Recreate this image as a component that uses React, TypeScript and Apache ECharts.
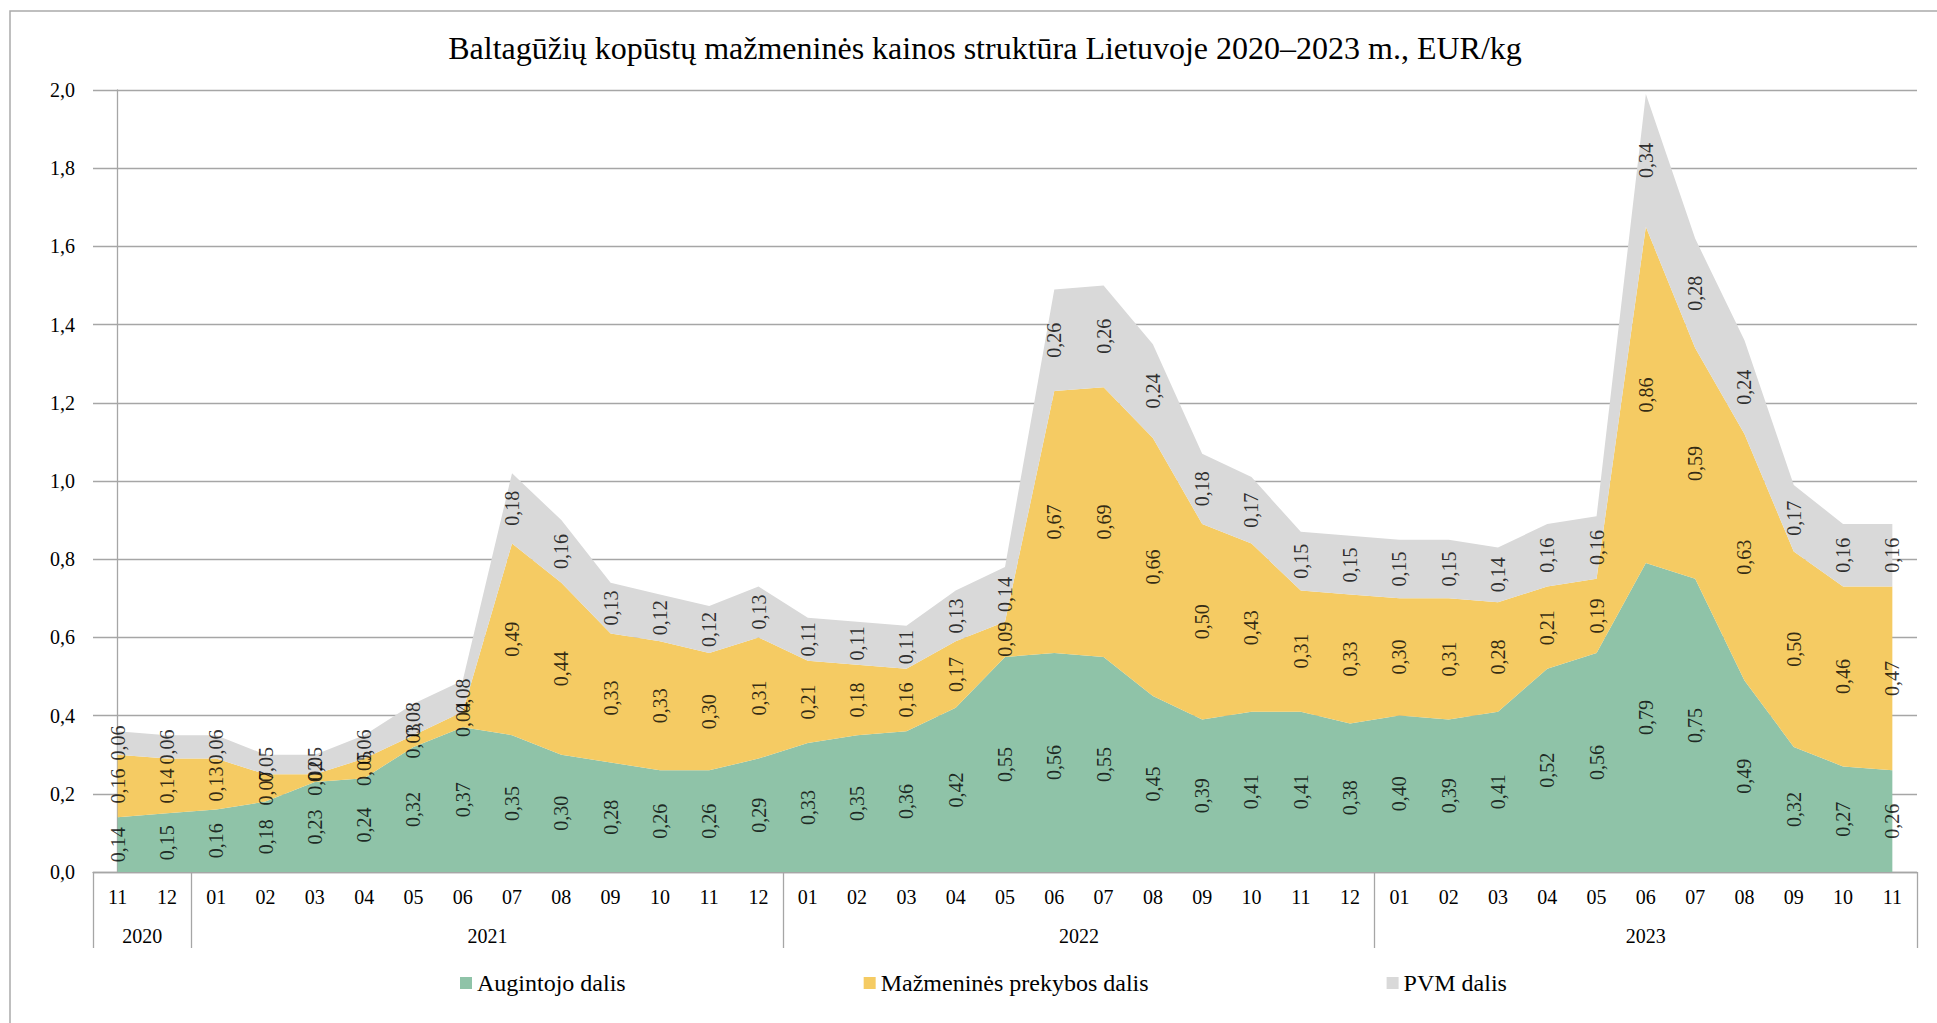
import React, { useEffect, useRef } from "react";
import * as echarts from "echarts";

const TITLE = "Baltagūžių kopūstų mažmeninės kainos struktūra Lietuvoje 2020–2023 m., EUR/kg";

const months = [
  "11", "12",
  "01", "02", "03", "04", "05", "06", "07", "08", "09", "10", "11", "12",
  "01", "02", "03", "04", "05", "06", "07", "08", "09", "10", "11", "12",
  "01", "02", "03", "04", "05", "06", "07", "08", "09", "10", "11",
];
const years = ["2020", "2021", "2022", "2023"];
const yearMonthCounts = [2, 12, 12, 11];

const seriesNames = ["Augintojo dalis", "Mažmeninės prekybos dalis", "PVM dalis"];

const augintojo = [
  0.14, 0.15,
  0.16, 0.18, 0.23, 0.24, 0.32, 0.37, 0.35, 0.30, 0.28, 0.26, 0.26, 0.29,
  0.33, 0.35, 0.36, 0.42, 0.55, 0.56, 0.55, 0.45, 0.39, 0.41, 0.41, 0.38,
  0.40, 0.39, 0.41, 0.52, 0.56, 0.79, 0.75, 0.49, 0.32, 0.27, 0.26,
];
const prekybos = [
  0.16, 0.14,
  0.13, 0.07, 0.02, 0.05, 0.03, 0.04, 0.49, 0.44, 0.33, 0.33, 0.30, 0.31,
  0.21, 0.18, 0.16, 0.17, 0.09, 0.67, 0.69, 0.66, 0.50, 0.43, 0.31, 0.33,
  0.30, 0.31, 0.28, 0.21, 0.19, 0.86, 0.59, 0.63, 0.50, 0.46, 0.47,
];
const pvm = [
  0.06, 0.06,
  0.06, 0.05, 0.05, 0.06, 0.08, 0.08, 0.18, 0.16, 0.13, 0.12, 0.12, 0.13,
  0.11, 0.11, 0.11, 0.13, 0.14, 0.26, 0.26, 0.24, 0.18, 0.17, 0.15, 0.15,
  0.15, 0.15, 0.14, 0.16, 0.16, 0.34, 0.28, 0.24, 0.17, 0.16, 0.16,
];

const colors = ["#8FC3A8", "#F5CB63", "#D9D9D9"];
const FONT = "Liberation Serif, DejaVu Serif, serif";

export default function App() {
  const ref = useRef<HTMLDivElement>(null);

  useEffect(() => {
    if (!ref.current) return;
    const chart = echarts.init(ref.current, undefined, { renderer: "svg" });

    const all = [augintojo, prekybos, pvm];
    const starts: number[] = [];
    const centers: number[] = [];
    let acc = 0;
    yearMonthCounts.forEach((c) => {
      starts.push(acc);
      centers.push(acc + (c - 1) / 2);
      acc += c;
    });

    const areaSeries = all.map((vals, k) => ({
      name: seriesNames[k],
      type: "line",
      stack: "total",
      data: vals,
      showSymbol: false,
      symbol: "none",
      lineStyle: { width: 0, color: colors[k] },
      itemStyle: { color: colors[k] },
      areaStyle: { color: colors[k], opacity: 1 },
      silent: true,
      z: 2,
    }));

    const labelSeries = all.map((vals, k) => ({
      name: "lbl" + k,
      type: "scatter",
      symbolSize: 0,
      silent: true,
      z: 5,
      data: vals.map((v, i) => {
        let base = 0;
        for (let j = 0; j < k; j++) base += all[j][i];
        return [i, base + v / 2, v];
      }),
      label: {
        show: true,
        position: "inside",
        rotate: 90,
        fontSize: 20,
        fontFamily: FONT,
        color: "#000",
        formatter: (p: any) => p.data[2].toFixed(2).replace(".", ","),
      },
    }));

    chart.setOption({
      animation: false,
      backgroundColor: "#fff",
      textStyle: { fontFamily: FONT },
      graphic: [
        {
          type: "rect",
          shape: { x: 10, y: 11, width: 2200, height: 2200 },
          style: { fill: "none", stroke: "#ABABAB", lineWidth: 1.5 },
          silent: true,
        },
        {
          type: "text",
          x: 985,
          y: 48,
          style: {
            text: TITLE,
            fontSize: 32,
            fontFamily: FONT,
            fill: "#000",
            align: "center",
            verticalAlign: "middle",
          },
          silent: true,
        },
      ],
      legend: {
        data: seriesNames,
        left: 460,
        top: 971,
        padding: 0,
        itemWidth: 12,
        itemHeight: 12,
        itemGap: 238,
        icon: "rect",
        textStyle: { fontSize: 24, fontFamily: FONT, color: "#000" },
      },
      grid: { left: 93, right: 20, top: 90, bottom: 151, containLabel: false },
      xAxis: [
        {
          type: "category",
          data: months,
          boundaryGap: true,
          position: "bottom",
          axisLine: { show: true, lineStyle: { color: "#A6A6A6", width: 1.3 } },
          axisTick: {
            show: true,
            length: 76,
            interval: (index: number) => starts.indexOf(index) >= 0,
            lineStyle: { color: "#A6A6A6", width: 1.3 },
          },
          axisLabel: {
            interval: 0,
            margin: 15,
            fontSize: 20,
            fontFamily: FONT,
            color: "#000",
          },
          splitLine: { show: false },
        },
        {
          type: "value",
          position: "bottom",
          min: -0.5,
          max: months.length - 0.5,
          interval: 0.5,
          axisLine: { show: false },
          axisTick: { show: false },
          splitLine: { show: false },
          axisLabel: {
            margin: 54,
            fontSize: 20,
            fontFamily: FONT,
            color: "#000",
            showMinLabel: true,
            showMaxLabel: true,
            formatter: (v: number) => {
              const idx = centers.findIndex((c) => Math.abs(c - v) < 1e-6);
              return idx >= 0 ? years[idx] : "";
            },
          },
        },
      ],
      yAxis: {
        type: "value",
        min: 0,
        max: 2,
        interval: 0.2,
        axisLine: { show: true, lineStyle: { color: "#A6A6A6", width: 1.3 } },
        axisTick: { show: false },
        splitLine: { show: true, lineStyle: { color: "#A6A6A6", width: 1.3 } },
        axisLabel: {
          margin: 18,
          fontSize: 20,
          fontFamily: FONT,
          color: "#000",
          formatter: (v: number) => v.toFixed(1).replace(".", ","),
        },
      },
      series: [...areaSeries, ...labelSeries],
    });

    return () => chart.dispose();
  }, []);

  return (
    <div
      ref={ref}
      style={{ position: "absolute", left: 0, top: 0, width: 1937, height: 1023 }}
    />
  );
}
